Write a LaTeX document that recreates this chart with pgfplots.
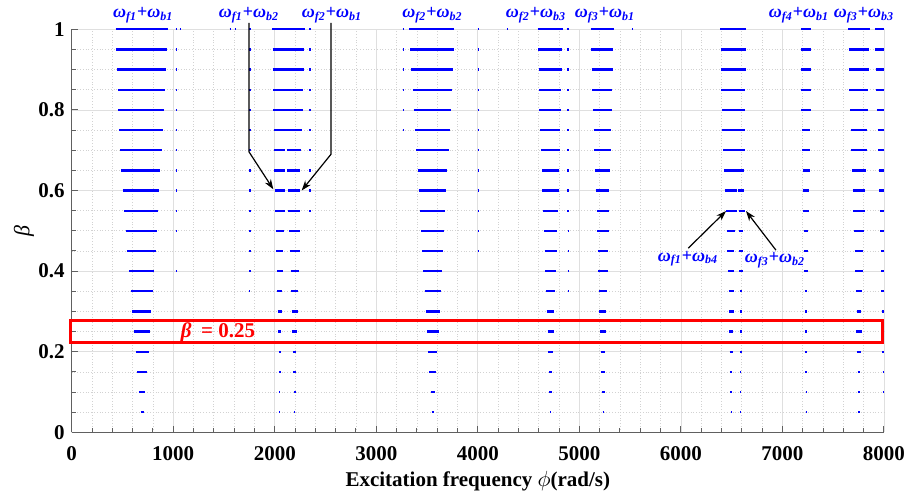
\documentclass[border=0pt]{standalone}
\usepackage{fontspec}
\setmainfont{Liberation Serif}
\usepackage{pgfplots}
\pgfplotsset{compat=1.18}
\usepackage{pgfplotstable}
\usetikzlibrary{arrows.meta}

% band: beta, left end, right end (rad/s)
\pgfplotstableread{
b l r
1.00 432 950
0.95 435 941
0.90 445 931
0.85 452 921
0.80 458 908
0.75 468 898
0.70 478 885
0.65 488 872
0.60 501 862
0.55 517 849
0.50 530 839
0.45 547 826
0.40 563 810
0.35 580 797
0.30 596 780
0.25 613 770
0.20 632 757
0.15 645 741
0.10 662 724
0.05 678 708
1.00 1026 1040
1.00 1066 1076
0.95 1026 1038
0.90 1026 1038
0.85 1026 1038
0.80 1026 1038
0.75 1026 1038
0.70 1026 1038
0.65 1026 1038
0.60 1026 1038
0.55 1026 1036
0.50 1026 1036
0.40 1026 1036
}\bandA

\pgfplotstableread{
b l r
1.00 1972 2297
0.95 1979 2291
0.90 1979 2284
0.85 1985 2278
0.80 1986 2278
0.75 1989 2268
0.70 1989 2103
0.70 2117 2261
0.65 1995 2100
0.65 2120 2251
0.60 2002 2103
0.60 2127 2248
0.55 2005 2097
0.55 2133 2248
0.50 2008 2090
0.50 2140 2248
0.45 2015 2084
0.45 2146 2244
0.40 2021 2077
0.40 2156 2238
0.35 2025 2074
0.35 2162 2228
0.30 2028 2071
0.30 2166 2225
0.25 2035 2064
0.25 2172 2218
0.20 2041 2061
0.20 2179 2212
0.15 2041 2058
0.15 2182 2209
0.10 2044 2054
0.10 2189 2205
0.05 2044 2052
0.05 2192 2199
1.00 1750 1762
0.95 1750 1762
0.90 1750 1762
0.85 1750 1762
0.80 1750 1762
0.75 1750 1762
0.70 1750 1762
0.65 1750 1762
0.60 1750 1762
0.55 1750 1762
0.50 1750 1762
0.45 1750 1762
0.40 1750 1762
0.35 1750 1760
1.00 2341 2353
0.95 2341 2353
0.90 2341 2353
0.85 2341 2353
0.80 2341 2353
0.75 2341 2353
0.70 2341 2353
0.65 2341 2353
0.60 2341 2353
0.55 2341 2353
1.00 1555 1565
1.00 1605 1615
}\bandB

\pgfplotstableread{
b l r
1.00 3322 3768
0.95 3335 3762
0.90 3345 3755
0.85 3358 3742
0.80 3368 3732
0.75 3381 3722
0.70 3394 3712
0.65 3407 3699
0.60 3417 3689
0.55 3430 3680
0.50 3443 3670
0.45 3453 3660
0.40 3463 3647
0.35 3476 3634
0.30 3489 3627
0.25 3502 3614
0.20 3512 3601
0.15 3522 3591
0.10 3535 3581
0.05 3545 3565
1.00 3260 3272
0.95 3260 3272
0.90 3260 3272
0.85 3260 3272
0.80 3260 3272
0.75 3260 3272
1.00 3999 4011
0.95 3999 4011
0.90 3999 4011
0.85 3999 4011
0.80 3999 4011
0.75 3999 4011
0.70 3999 4011
0.65 3999 4011
0.60 3999 4011
0.55 3999 4011
0.50 3999 4011
0.45 3999 4011
1.00 4285 4295
}\bandC

\pgfplotstableread{
b l r
1.00 4589 4835
0.95 4596 4832
0.90 4599 4829
0.85 4602 4822
0.80 4605 4819
0.75 4615 4812
0.70 4622 4809
0.65 4632 4802
0.60 4635 4796
0.55 4642 4789
0.50 4651 4783
0.45 4658 4776
0.40 4665 4770
0.35 4674 4763
0.30 4681 4753
0.25 4688 4747
0.20 4694 4740
0.15 4701 4734
0.10 4704 4727
0.05 4711 4720
1.00 4875 4901
0.95 4877 4899
0.90 4877 4899
0.85 4879 4897
0.80 4879 4897
0.75 4881 4895
0.70 4881 4895
0.65 4882 4894
0.60 4882 4894
0.55 4883 4893
0.50 4884 4892
0.45 4884 4892
0.40 4885 4891
0.35 4885 4891
}\bandD

\pgfplotstableread{
b l r
1.00 5111 5338
0.95 5114 5334
0.90 5121 5331
0.85 5127 5324
0.80 5134 5318
0.75 5141 5315
0.70 5147 5308
0.65 5154 5301
0.60 5160 5295
0.55 5170 5292
0.50 5173 5288
0.45 5180 5285
0.40 5187 5278
0.35 5193 5272
0.30 5196 5265
0.25 5206 5262
0.20 5209 5255
0.15 5216 5252
0.10 5219 5249
0.05 5229 5242
1.00 5516 5526
}\bandE

\pgfplotstableread{
b l r
1.00 6385 6641
0.95 6391 6641
0.90 6394 6637
0.85 6398 6634
0.80 6401 6634
0.75 6408 6634
0.70 6414 6628
0.65 6424 6624
0.60 6431 6552
0.60 6565 6624
0.55 6444 6549
0.55 6575 6628
0.50 6450 6529
0.50 6569 6614
0.45 6457 6526
0.45 6572 6611
0.40 6463 6526
0.40 6575 6608
0.35 6470 6522
0.35 6578 6605
0.30 6473 6522
0.30 6578 6601
0.25 6477 6516
0.25 6582 6601
0.20 6480 6513
0.20 6582 6598
0.15 6483 6506
0.15 6582 6595
0.10 6486 6503
0.10 6585 6592
0.05 6490 6500
0.05 6585 6592
}\bandF

\pgfplotstableread{
b l r
1.00 7182 7281
0.95 7186 7278
0.90 7186 7278
0.85 7186 7278
0.80 7186 7278
0.75 7192 7274
0.70 7195 7271
0.65 7199 7268
0.60 7199 7264
0.55 7205 7258
0.50 7209 7255
0.45 7212 7251
0.40 7215 7248
0.35 7218 7245
0.30 7222 7245
0.25 7222 7238
0.20 7225 7238
0.15 7225 7238
0.10 7228 7235
0.05 7228 7235
}\bandG

\pgfplotstableread{
b l r
1.00 7649 7862
1.00 7911 8000
0.95 7652 7855
0.95 7914 8000
0.90 7655 7849
0.90 7918 8000
0.85 7659 7846
0.85 7924 8000
0.80 7668 7842
0.80 7931 8000
0.75 7675 7836
0.75 7937 8000
0.70 7678 7829
0.70 7944 8000
0.65 7685 7822
0.65 7950 8000
0.60 7691 7816
0.60 7953 8000
0.55 7698 7809
0.55 7957 8000
0.50 7704 7803
0.50 7963 8000
0.45 7711 7796
0.45 7967 8000
0.40 7717 7790
0.40 7970 8000
0.35 7724 7783
0.35 7973 8000
0.30 7731 7777
0.30 7977 8000
0.25 7729 7779
0.25 7980 8000
0.20 7734 7773
0.20 7983 8000
0.15 7741 7766
0.15 7987 8000
0.10 7744 7763
0.10 7990 8000
0.05 7747 7760
}\bandH

\newcommand\lab[2]{\bfseries\itshape ω\textsubscript{#1}{\upshape+}ω\textsubscript{#2}}

\begin{document}
\begin{tikzpicture}
\useasboundingbox (-35.85pt,-30.85pt) rectangle (422.65pt,216.15pt);
\begin{axis}[
  at={(0,0)}, anchor=south west,
  scale only axis, width=406.15pt, height=201.5pt,
  xmin=0, xmax=8000, ymin=0, ymax=1,
  axis x line*=bottom, axis y line*=left,
  axis line style={gray!75!black, line width=0.5pt},
  xtick={0,1000,2000,3000,4000,5000,6000,7000,8000},
  ytick={0,0.2,0.4,0.6,0.8,1},
  minor x tick num=4, minor y tick num=3,
  tick align=inside, major tick length=3pt, minor tick length=2pt,
  tick style={gray!75!black, line width=0.5pt},
  grid=both,
  major grid style={gray!25, line width=0.4pt},
  minor grid style={gray!35, densely dotted, line width=0.35pt},
  /pgf/number format/assume math mode=true,
  /pgf/number format/1000 sep={},
  ticklabel style={font=\fontsize{10.5}{12}\selectfont\bfseries},
  xticklabel style={yshift=-3.5pt},
  xlabel={Excitation frequency \ensuremath{\phi}(rad/s)},
  ylabel={\textit{β}},
  xlabel style={at={(axis description cs:0.5,-0.1333)}, anchor=base, font=\fontsize{10.5}{12}\selectfont\bfseries},
  ylabel style={at={(axis description cs:-0.0587,0.5)}, anchor=center, font=\fontsize{11}{12}\selectfont},
  clip=false,
]
\addplot[blue, line width=1.15pt, quiver={u=\thisrow{r}-\thisrow{l}, v=0}] table[x=l, y=b] {\bandA};
\addplot[blue, line width=1.15pt, quiver={u=\thisrow{r}-\thisrow{l}, v=0}] table[x=l, y=b] {\bandB};
\addplot[blue, line width=1.15pt, quiver={u=\thisrow{r}-\thisrow{l}, v=0}] table[x=l, y=b] {\bandC};
\addplot[blue, line width=1.15pt, quiver={u=\thisrow{r}-\thisrow{l}, v=0}] table[x=l, y=b] {\bandD};
\addplot[blue, line width=1.15pt, quiver={u=\thisrow{r}-\thisrow{l}, v=0}] table[x=l, y=b] {\bandE};
\addplot[blue, line width=1.15pt, quiver={u=\thisrow{r}-\thisrow{l}, v=0}] table[x=l, y=b] {\bandF};
\addplot[blue, line width=1.15pt, quiver={u=\thisrow{r}-\thisrow{l}, v=0}] table[x=l, y=b] {\bandG};
\addplot[blue, line width=1.15pt, quiver={u=\thisrow{r}-\thisrow{l}, v=0}] table[x=l, y=b] {\bandH};

\draw[red, line width=1.35pt] (axis cs:-10,0.222) rectangle (axis cs:7983,0.278);
\node[text=red, font=\fontsize{10.5}{12}\selectfont\bfseries] at (axis cs:1441,0.248) {\textit{β}\hspace{0.45em}= 0.25};

\begin{scope}[every node/.style={text=blue, font=\fontsize{9}{10}\selectfont}]
\node at (axis cs:705,1.035) {\lab{f1}{b1}};
\node at (axis cs:1746,1.035) {\lab{f1}{b2}};
\node at (axis cs:2564,1.035) {\lab{f2}{b1}};
\node at (axis cs:3553,1.035) {\lab{f2}{b2}};
\node at (axis cs:4572,1.035) {\lab{f2}{b3}};
\node at (axis cs:5252,1.035) {\lab{f3}{b1}};
\node at (axis cs:7163,1.035) {\lab{f4}{b1}};
\node at (axis cs:7803,1.035) {\lab{f3}{b3}};
\node at (axis cs:6070,0.43) {\lab{f1}{b4}};
\node at (axis cs:6926,0.427) {\lab{f3}{b2}};
\end{scope}

\begin{scope}[black, line width=0.6pt, -{Stealth[length=5pt,width=3.5pt]}]
\draw (axis cs:1746,1.016) -- (axis cs:1746,0.696) -- (axis cs:1986,0.603);
\draw (axis cs:2554,1.016) -- (axis cs:2554,0.690) -- (axis cs:2265,0.600);
\draw (axis cs:6073,0.457) -- (axis cs:6444,0.549);
\draw (axis cs:6936,0.452) -- (axis cs:6641,0.549);
\end{scope}
\end{axis}
\end{tikzpicture}
\end{document}
